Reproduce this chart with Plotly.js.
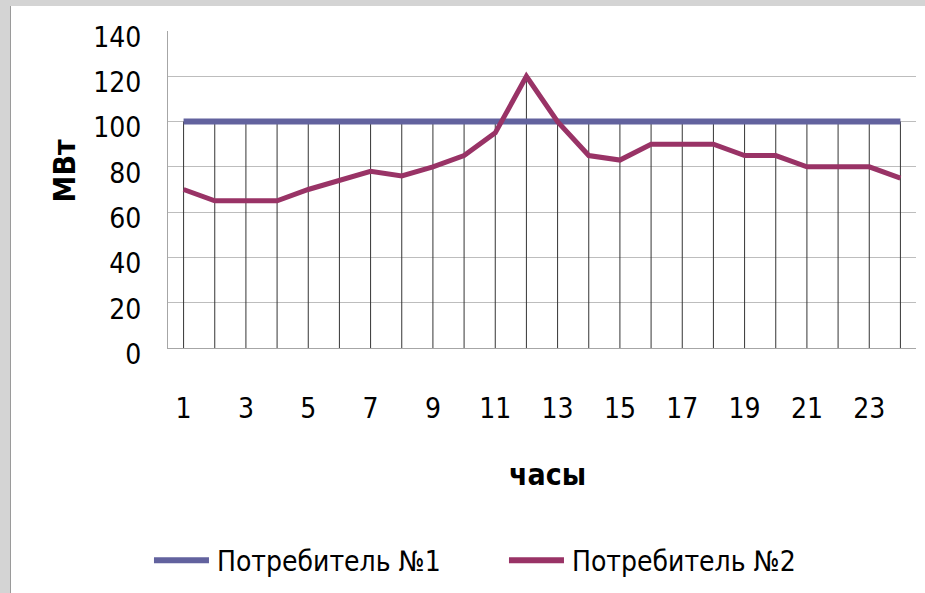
<!DOCTYPE html>
<html>
<head>
<meta charset="utf-8">
<script src="https://cdn.plot.ly/plotly-3.0.1.min.js"></script>
<style>
  html, body { margin: 0; padding: 0; background: #ffffff; }
  #frame { width: 925px; height: 593px; background: #d4d4d4; position: relative; overflow: hidden; }
  #chart { position: absolute; left: 10px; top: 6px; width: 915px; height: 587px; background: #ffffff; border-left: 1px solid #9a9a9a; box-sizing: border-box; }
</style>
</head>
<body>
<div id="frame"><div id="chart"></div></div>
<script>
const hours = [1,2,3,4,5,6,7,8,9,10,11,12,13,14,15,16,17,18,19,20,21,22,23,24];
const consumer1 = [100,100,100,100,100,100,100,100,100,100,100,100,100,100,100,100,100,100,100,100,100,100,100,100];
const consumer2 = [70,65,65,65,70,74,78,76,80,85,95,120,100,85,83,90,90,90,85,85,80,80,80,75];
const seriesNames = ['Потребитель №1', 'Потребитель №2'];
const xTickLabels = ['1','3','5','7','9','11','13','15','17','19','21','23'];
const xTickVals = xTickLabels.map(Number);
const yTitle = 'МВт';
const xTitle = 'часы';

const FONT = '"DejaVu Sans Condensed", "Liberation Sans Narrow", sans-serif';

const dropX = [], dropY = [];
hours.forEach((h, i) => {
  dropX.push(h, h, null);
  dropY.push(0, Math.max(consumer1[i], consumer2[i]), null);
});

const traces = [
  { x: dropX, y: dropY, mode: 'lines', line: { color: '#353535', width: 1 }, showlegend: false, hoverinfo: 'skip' },
  { x: hours, y: consumer1, name: seriesNames[0], mode: 'lines', line: { color: '#62629e', width: 6 } },
  { x: hours, y: consumer2, name: seriesNames[1], mode: 'lines', line: { color: '#993366', width: 5 } }
];

const layout = {
  width: 914, height: 587,
  margin: { l: 157, r: 9, t: 25, b: 244 },
  paper_bgcolor: '#ffffff', plot_bgcolor: '#ffffff',
  font: { family: FONT, color: '#000000', size: 28 },
  xaxis: {
    range: [0.5, 24.5], tickvals: xTickVals, ticktext: xTickLabels,
    showgrid: false, zeroline: false, showline: true, linecolor: '#a6a6a6', linewidth: 1,
    ticks: '', ticklabelstandoff: 35, tickfont: { family: FONT, size: 28, color: '#000' }
  },
  yaxis: {
    range: [0, 140], dtick: 20, tick0: 0,
    showgrid: true, gridcolor: '#bdbdbd', gridwidth: 1, zeroline: false,
    showline: true, linecolor: '#a6a6a6', linewidth: 1,
    ticks: '', ticklabelstandoff: 20, ticklabelshift: 6, tickfont: { family: FONT, size: 28, color: '#000' }
  },
  legend: {
    orientation: 'h', x: 0.4866, xanchor: 'center', y: -0.665, yanchor: 'middle',
    font: { family: FONT, size: 28, color: '#000' },
    bgcolor: 'rgba(0,0,0,0)', entrywidth: 310, entrywidthmode: 'pixels'
  },
  annotations: [
    { text: '<b>' + xTitle + '</b>', xref: 'paper', yref: 'paper', x: 0.508, y: -0.40, xanchor: 'center', yanchor: 'middle', showarrow: false, font: { family: FONT, size: 30, color: '#000' } },
    { text: '<b>' + yTitle + '</b>', xref: 'paper', yref: 'paper', x: -0.139, y: 0.557, xanchor: 'center', yanchor: 'middle', textangle: -90, showarrow: false, font: { family: FONT, size: 30, color: '#000' } }
  ],
  showlegend: true
};

Plotly.newPlot('chart', traces, layout, { staticPlot: true, displayModeBar: false }).then(gd => {
  // Excel-style longer legend line samples
  gd.querySelectorAll('.legend [clip-path]').forEach(el => el.removeAttribute('clip-path'));
  gd.querySelectorAll('.legend .legendlines path').forEach(p => {
    p.setAttribute('d', 'M-23,0h55');
    p.style.strokeWidth = '6px';
  });
});
</script>
</body>
</html>
